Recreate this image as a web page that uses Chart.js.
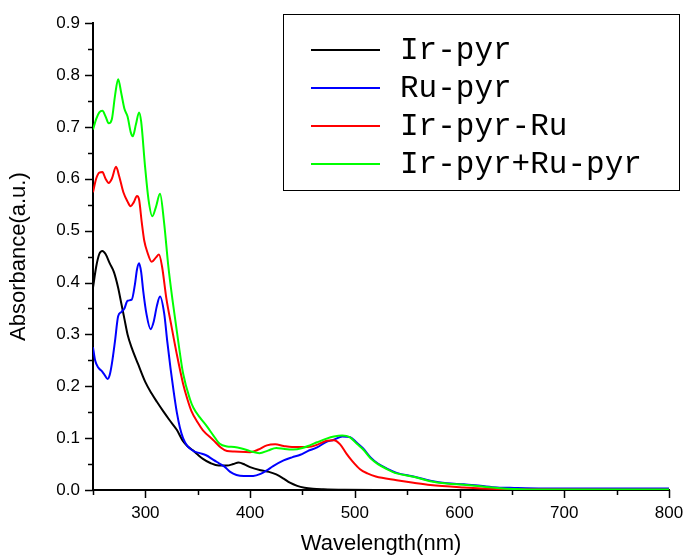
<!DOCTYPE html>
<html>
<head>
<meta charset="utf-8">
<script src="https://cdn.jsdelivr.net/npm/chart.js@4/dist/chart.umd.min.js"></script>
<style>
  html, body { margin: 0; padding: 0; background: #fff; }
  #wrap { width: 686px; height: 557px; }
</style>
</head>
<body>
<div id="wrap"><canvas id="c" width="686" height="557"></canvas></div>
<script>
// UV-Vis absorption spectra (wavelength in nm, absorbance in a.u.)
const wlIrPyr = [250,253,256,259,262,266,270,274,277,280,283,287,293,300,306,311,317,323,330,336,340,345,349,355,362,370,378,384,389,395,400,410,418,425,432,438,445,452,460,470,490,520,800];
const absIrPyr = [0.39,0.43,0.455,0.461,0.455,0.437,0.42,0.39,0.36,0.33,0.30,0.274,0.243,0.208,0.186,0.170,0.152,0.135,0.116,0.094,0.085,0.077,0.070,0.060,0.052,0.047,0.047,0.050,0.053,0.049,0.044,0.038,0.035,0.030,0.022,0.014,0.008,0.0045,0.0025,0.0015,0.0005,0,0];

const wlRuPyr = [250,252,255,258,261,264,266,268,271,274,277,280,283,287,290,292,294,296,298,301,305,308,311,314,318,321,324,327,330,333,336,340,346,352,358,365,370,375,381,387,394,403,410,416,422,432,440,448,455,464,472,480,488,495,502,508,515,522,530,540,556,572,588,604,620,636,652,680,740,800];
const absRuPyr = [0.275,0.25,0.236,0.23,0.222,0.214,0.222,0.243,0.287,0.335,0.343,0.350,0.365,0.367,0.396,0.425,0.437,0.42,0.383,0.34,0.31,0.325,0.355,0.373,0.34,0.285,0.235,0.19,0.15,0.12,0.10,0.085,0.075,0.071,0.067,0.058,0.052,0.046,0.035,0.029,0.027,0.027,0.031,0.038,0.046,0.057,0.063,0.068,0.075,0.082,0.092,0.097,0.103,0.102,0.091,0.080,0.063,0.051,0.042,0.033,0.026,0.018,0.013,0.011,0.008,0.005,0.004,0.003,0.003,0.003];

const wlIrPyrRu = [250,253,256,259,262,265,268,272,275,279,283,286,289,292,294,296.5,299,302,306,310,313,316,320,325,330,336,340,344,350,355,365,372,378,385,400,408,416,424,432,440,455,465,473,480,486,492,497,505,512,520,540,556,572,604,636,680,800];
const absIrPyrRu = [0.574,0.60,0.612,0.613,0.60,0.592,0.60,0.623,0.605,0.574,0.556,0.547,0.555,0.567,0.56,0.517,0.48,0.458,0.44,0.448,0.454,0.43,0.37,0.315,0.262,0.205,0.176,0.152,0.13,0.115,0.096,0.082,0.075,0.074,0.073,0.078,0.086,0.088,0.085,0.083,0.083,0.088,0.095,0.096,0.088,0.070,0.057,0.040,0.032,0.026,0.019,0.014,0.0096,0.005,0.002,0.001,0.0005];

const wlMix = [250,253,256,259,262,265,268,271,274,277,280,283,286,288,291,294,296,299.6,303,306.6,310,314,317.8,322,326,331.5,336,342.6,346,352,358.6,365,371,378,385,392,400,409,417,425,433,441,450,457,464,473,480,488,495,502,508,515,522,530,540,556,572,588,604,620,636,652,680,800];
const absMix = [0.695,0.715,0.728,0.731,0.72,0.707,0.715,0.76,0.792,0.765,0.735,0.72,0.69,0.682,0.705,0.728,0.71,0.626,0.56,0.528,0.545,0.571,0.517,0.43,0.365,0.285,0.225,0.175,0.158,0.14,0.123,0.105,0.089,0.084,0.083,0.080,0.075,0.071,0.076,0.081,0.079,0.078,0.081,0.086,0.092,0.099,0.103,0.105,0.102,0.089,0.078,0.061,0.050,0.041,0.032,0.0255,0.017,0.0125,0.010,0.007,0.004,0.002,0.001,0.001];

const seriesNames = ['Ir-pyr', 'Ru-pyr', 'Ir-pyr-Ru', 'Ir-pyr+Ru-pyr'];
const seriesColors = ['#000000', '#0000ff', '#ff0000', '#00ff00'];

const xMajorTicks = [300, 400, 500, 600, 700, 800];
const xMinorTicks = [250, 350, 450, 550, 650, 750];
const yMajorTicks = [0, 0.1, 0.2, 0.3, 0.4, 0.5, 0.6, 0.7, 0.8, 0.9];
const yMinorTicks = [0.05, 0.15, 0.25, 0.35, 0.45, 0.55, 0.65, 0.75, 0.85];

const toPoints = (xs, ys) => xs.map((v, i) => ({ x: v, y: ys[i] }));
const seriesData = [
  toPoints(wlIrPyr, absIrPyr),
  toPoints(wlRuPyr, absRuPyr),
  toPoints(wlIrPyrRu, absIrPyrRu),
  toPoints(wlMix, absMix)
];

const sansFont = '"Liberation Sans", Arial, sans-serif';
const monoFont = '"Liberation Mono", "Courier New", monospace';

// Outward major/minor tick marks on both axes
const tickMarks = {
  id: 'tickMarks',
  afterDraw(chart) {
    const { ctx, chartArea, scales } = chart;
    ctx.save();
    ctx.strokeStyle = '#000';
    ctx.lineWidth = 1.5;
    const xt = (v, len) => {
      const px = Math.round(scales.x.getPixelForValue(v)) + 0.5;
      ctx.beginPath(); ctx.moveTo(px, chartArea.bottom); ctx.lineTo(px, chartArea.bottom + len); ctx.stroke();
    };
    const yt = (v, len) => {
      const py = Math.round(scales.y.getPixelForValue(v)) + 0.5;
      ctx.beginPath(); ctx.moveTo(chartArea.left, py); ctx.lineTo(chartArea.left - len, py); ctx.stroke();
    };
    xMajorTicks.forEach(v => xt(v, 8));
    xMinorTicks.forEach(v => xt(v, 5));
    yMajorTicks.forEach(v => yt(v, 8));
    yMinorTicks.forEach(v => yt(v, 5));
    ctx.restore();
  }
};

// Boxed legend in the upper right
const boxLegend = {
  id: 'boxLegend',
  afterDraw(chart) {
    const { ctx } = chart;
    const box = { x: 283, y: 14, w: 396, h: 176 };
    ctx.save();
    ctx.fillStyle = '#fff';
    ctx.fillRect(box.x, box.y, box.w, box.h);
    ctx.strokeStyle = '#000';
    ctx.lineWidth = 1;
    ctx.strokeRect(box.x + 0.5, box.y + 0.5, box.w, box.h);
    ctx.font = '31px ' + monoFont;
    ctx.textBaseline = 'middle';
    ctx.textAlign = 'left';
    chart.data.datasets.forEach((ds, i) => {
      const cy = 50 + i * 38;
      ctx.strokeStyle = ds.borderColor;
      ctx.lineWidth = 2;
      ctx.beginPath(); ctx.moveTo(311, cy); ctx.lineTo(380, cy); ctx.stroke();
      ctx.fillStyle = '#000';
      ctx.fillText(ds.label, 400, cy + 1);
    });
    ctx.restore();
  }
};

new Chart(document.getElementById('c'), {
  type: 'line',
  data: {
    datasets: seriesNames.map((name, i) => ({
      label: name,
      data: seriesData[i],
      borderColor: seriesColors[i],
      backgroundColor: seriesColors[i],
      borderWidth: 2,
      pointRadius: 0,
      fill: false,
      cubicInterpolationMode: 'monotone',
      order: seriesNames.length - 1 - i
    }))
  },
  options: {
    responsive: false,
    animation: false,
    devicePixelRatio: 1,
    layout: { padding: { top: 20, right: 17, left: 0, bottom: 0 } },
    plugins: { legend: { display: false }, tooltip: { enabled: false } },
    scales: {
      x: {
        type: 'linear',
        min: 250,
        max: 800,
        afterBuildTicks: s => { s.ticks = xMajorTicks.map(v => ({ value: v })); },
        afterFit: s => { s.height = 67; s.paddingLeft = 0; s.paddingRight = 0; },
        grid: { display: false, drawTicks: false },
        border: { display: true, color: '#000', width: 2 },
        ticks: { color: '#000', font: { family: sansFont, size: 17 }, padding: 13, maxRotation: 0, autoSkip: false, callback: v => String(v) },
        title: { display: true, text: 'Wavelength(nm)', color: '#000', font: { family: sansFont, size: 22 }, padding: { top: 0, bottom: 0 } }
      },
      y: {
        type: 'linear',
        min: 0,
        max: 0.9,
        afterBuildTicks: s => { s.ticks = yMajorTicks.map(v => ({ value: v })); },
        afterFit: s => { s.width = 93; },
        grid: { display: false, drawTicks: false },
        border: { display: true, color: '#000', width: 2 },
        ticks: { color: '#000', font: { family: sansFont, size: 17 }, padding: 13, autoSkip: false, callback: v => Number(v).toFixed(1) },
        title: { display: true, text: 'Absorbance(a.u.)', color: '#000', font: { family: sansFont, size: 22 }, padding: { top: 6, bottom: 0 } }
      }
    }
  },
  plugins: [tickMarks, boxLegend]
});
</script>
</body>
</html>
